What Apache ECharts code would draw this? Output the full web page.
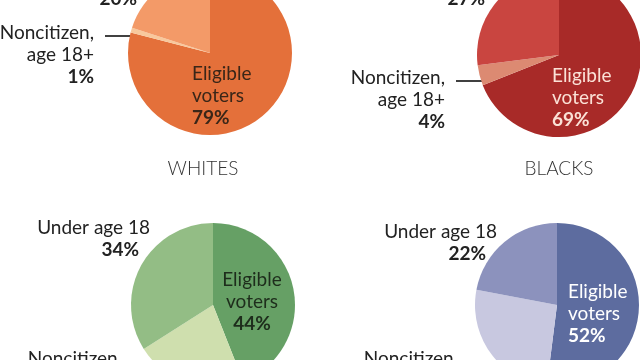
<!DOCTYPE html>
<html><head><meta charset="utf-8">
<script src="https://cdn.jsdelivr.net/npm/echarts@6/dist/echarts.min.js"></script>
<style>html,body{margin:0;padding:0;background:#fff}#c{width:640px;height:360px}</style>
</head><body><div id="c"></div>
<script>
const categories = ['Eligible voters', 'Noncitizen, age 18+', 'Under age 18'];
const categoryLines = [['Eligible', 'voters'], ['Noncitizen,', 'age 18+'], ['Under age 18']];
const groupTitles = ['WHITES', 'BLACKS'];
const whites = [79, 1, 20];
const blacks = [69, 4, 27];
const hispanics = [44, 22, 34];
const asians = [52, 26, 22];
const values = [whites, blacks, hispanics, asians];

const palettes = [
  ['#e4703a', '#f8c89c', '#f39a68'],
  ['#a82a28', '#dc8a72', '#c94540'],
  ['#66a065', '#cfdfae', '#93bd85'],
  ['#5d6c9f', '#c8c8e0', '#8c92bd']
];
const insideColors = ['#3a2618', '#fbe1d6', '#1e2d1c', '#ffffff'];
const centers = [[210, 53], [559, 55], [213, 305], [557, 305]];
const R = 82;
const titlePos = [[203, 169], [559, 169]];
// label anchors: [x, top, align]
const anchors = [
  [[192, 63, 'left'], [94, 22, 'right'], [148, -34, 'right']],
  [[552, 65, 'left'], [445, 67, 'right'], [496, -34, 'right']],
  [[252, 269, 'center'], [122, 348, 'right'], [150, 217, 'right']],
  [[568, 281, 'left'], [458, 348, 'right'], [497, 221, 'right']]
];
const FONT = 'Lato, "Noto Sans", sans-serif';
const FS = 19;

const chart = echarts.init(document.getElementById('c'), null, {renderer: 'canvas'});

function makeRich(color) {
  return {
    n: {fontFamily: FONT, fontSize: FS, lineHeight: 22, color: color},
    b: {fontFamily: FONT, fontSize: FS, lineHeight: 22, fontWeight: 'bold', color: color},
    p: {fontFamily: FONT, fontSize: FS, lineHeight: 22, fontWeight: 'bold', color: color, padding: [0, 11, 0, 0]}
  };
}

const series = values.map((vals, s) => ({
  type: 'pie',
  center: centers[s],
  radius: R,
  startAngle: 90,
  clockwise: true,
  avoidLabelOverlap: false,
  animation: false,
  silent: true,
  itemStyle: {borderWidth: 0},
  labelLayout: function (params) {
    const a = anchors[params.seriesIndex][params.dataIndex];
    const res = {x: a[0], y: a[1], align: a[2], verticalAlign: 'top'};
    if (params.dataIndex === 1) {
      const c = centers[params.seriesIndex];
      const ly = a[1] + 14;
      const dy = ly - c[1];
      const ex = c[0] - Math.sqrt(Math.max(0, R * R - dy * dy)) + 1;
      res.labelLinePoints = [[a[0] + 11, ly], [ex, ly]];
    }
    return res;
  },
  data: vals.map((v, i) => {
    const col = i === 0 ? insideColors[s] : '#222';
    const lines = categoryLines[i].map(t => '{n|' + t + '}');
    lines.push((i === 2 ? '{p|' : '{b|') + v + '%}');
    return {
      value: v,
      name: categories[i],
      itemStyle: {color: palettes[s][i]},
      label: {
        show: true,
        position: i === 0 ? 'inside' : 'outside',
        color: col,
        fontFamily: FONT,
        fontSize: FS,
        lineHeight: 22,
        formatter: lines.join('\n'),
        rich: makeRich(col)
      },
      labelLine: {show: i === 1, lineStyle: {color: '#111', width: 1.6, opacity: 1}}
    };
  })
}));

const graphic = groupTitles.map((t, k) => ({
  type: 'text',
  x: titlePos[k][0],
  y: titlePos[k][1],
  silent: true,
  style: {text: t, fill: '#333', font: '300 19px ' + FONT, textAlign: 'center', textVerticalAlign: 'middle'}
}));

chart.setOption({
  backgroundColor: '#ffffff',
  animation: false,
  series: series,
  graphic: graphic
});
</script>
</body></html>
